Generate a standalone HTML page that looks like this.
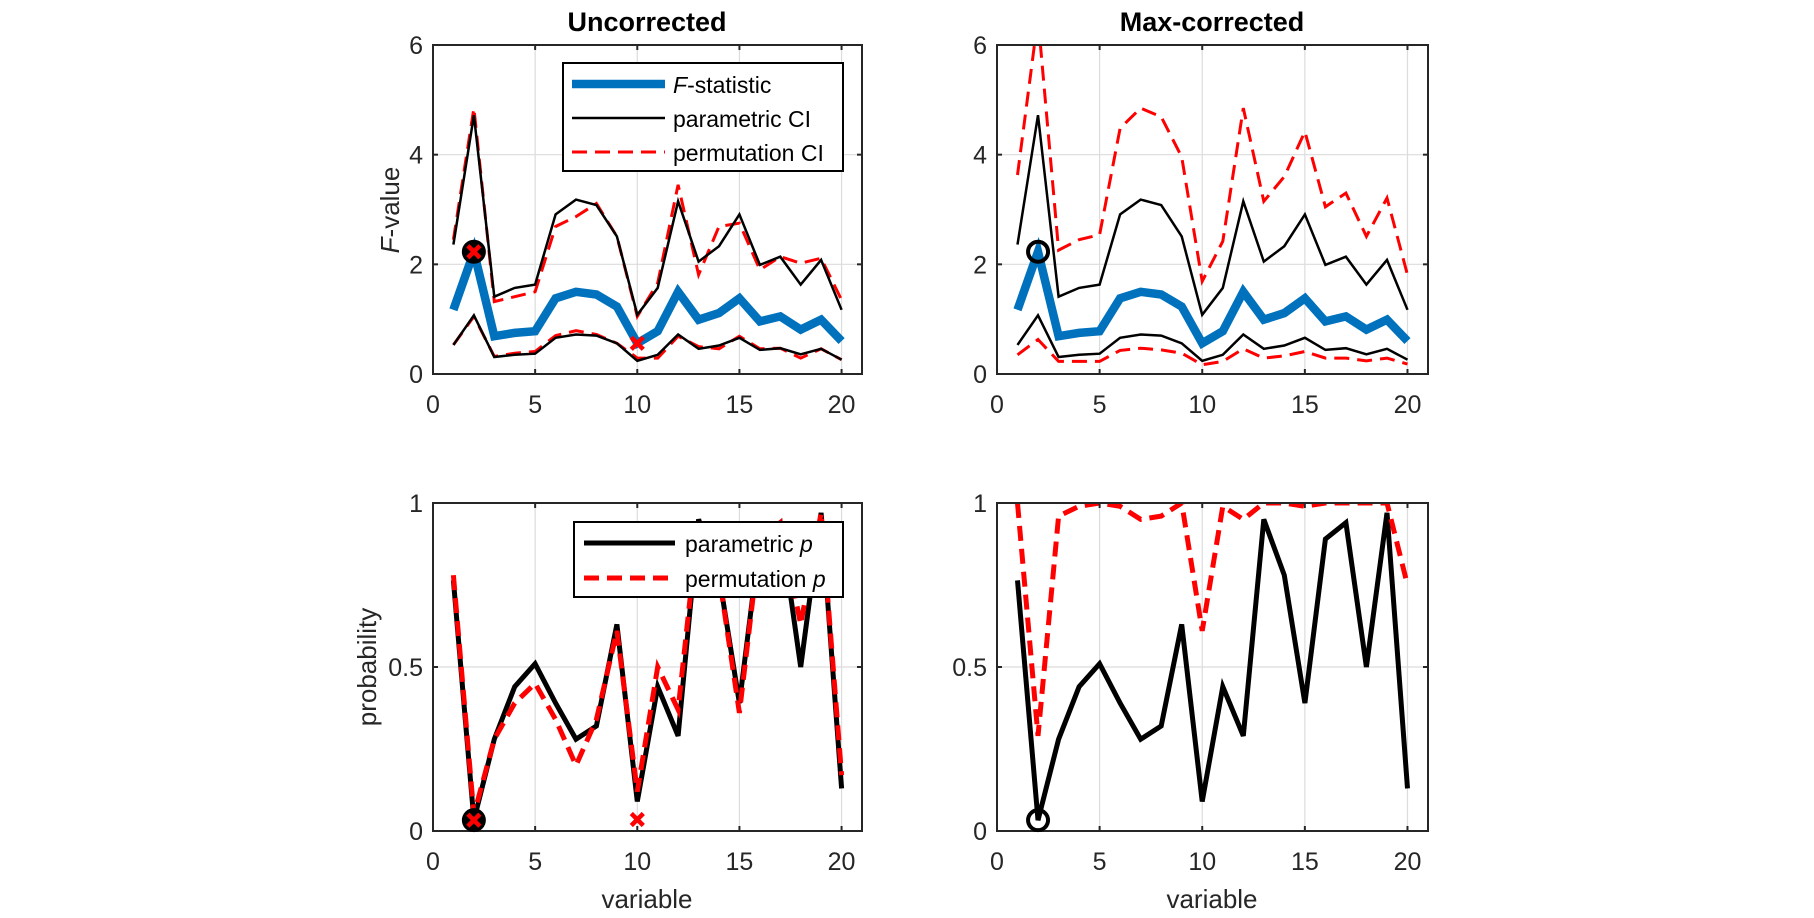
<!DOCTYPE html>
<html><head><meta charset="utf-8"><style>
body{margin:0;background:#fff;}
svg{display:block;font-family:"Liberation Sans",Arial,sans-serif;}
</style></head><body>
<svg id="fig" width="1814" height="918" viewBox="0 0 1814 918" xmlns="http://www.w3.org/2000/svg"></svg>
<script>
const xs=[1,2,3,4,5,6,7,8,9,10,11,12,13,14,15,16,17,18,19,20];
const fStat=[1.17,2.23,0.69,0.75,0.78,1.38,1.5,1.45,1.23,0.56,0.78,1.5,0.99,1.11,1.38,0.96,1.05,0.81,0.99,0.6];
const paramUpper=[2.36,4.72,1.41,1.57,1.63,2.91,3.18,3.08,2.51,1.08,1.57,3.15,2.05,2.33,2.91,1.99,2.14,1.63,2.08,1.17];
const paramLower=[0.53,1.07,0.31,0.35,0.37,0.66,0.72,0.70,0.56,0.24,0.35,0.72,0.46,0.52,0.66,0.44,0.47,0.36,0.46,0.26];
const permUpper=[2.45,4.85,1.32,1.41,1.5,2.69,2.87,3.11,2.51,1.05,1.66,3.45,1.81,2.69,2.75,1.9,2.14,2.02,2.11,1.35];
const permLower=[0.53,1.05,0.32,0.38,0.41,0.70,0.79,0.72,0.56,0.29,0.29,0.69,0.5,0.46,0.69,0.46,0.47,0.29,0.46,0.26];
const maxUpper=[3.63,6.5,2.26,2.45,2.54,4.48,4.85,4.69,3.96,1.69,2.42,4.85,3.15,3.6,4.42,3.05,3.3,2.51,3.21,1.81];
const maxLower=[0.35,0.63,0.23,0.23,0.23,0.43,0.47,0.44,0.38,0.17,0.23,0.46,0.29,0.33,0.41,0.29,0.29,0.24,0.29,0.18];
const paramP=[0.764,0.033,0.28,0.44,0.51,0.39,0.28,0.32,0.63,0.09,0.44,0.29,0.95,0.78,0.39,0.89,0.94,0.5,0.97,0.13];
const permP=[0.78,0.05,0.28,0.39,0.45,0.34,0.2,0.34,0.61,0.12,0.5,0.37,0.95,0.78,0.36,0.89,0.94,0.63,0.97,0.17];
const maxP=[1.0,0.29,0.96,0.99,1.0,0.99,0.95,0.96,1.0,0.61,0.99,0.95,1.0,1.0,0.99,1.0,1.0,1.0,1.0,0.75];
const xTicks=[0,5,10,15,20];
const fTicks=[0,2,4,6];
const pTicks=[0,0.5,1];
const pTickLabels=["0","0.5","1"];

const NS="http://www.w3.org/2000/svg";
const svg=document.getElementById('fig');
function mk(tag,attrs,parent){const e=document.createElementNS(NS,tag);for(const k in attrs)e.setAttribute(k,attrs[k]);(parent||svg).appendChild(e);return e;}

function axes(name,L,R,T,B,ymax,yt,ytl){
  const g=mk('g',{});
  
  
  const sx=v=>L+(v/21)*(R-L);
  const sy=v=>B-(v/ymax)*(B-T);
  const clipId=name+'-clip';
  const cp=mk('clipPath',{id:clipId},g);mk('rect',{x:L,y:T,width:R-L,height:B-T},cp);
  xTicks.forEach(t=>{ if(t>0){const l=mk('line',{x1:sx(t),x2:sx(t),y1:T,y2:B,stroke:'#dcdcdc','stroke-width':1.2},g);}});
  yt.forEach(t=>{ if(t>0&&t<ymax){const l=mk('line',{x1:L,x2:R,y1:sy(t),y2:sy(t),stroke:'#dcdcdc','stroke-width':1.2},g);}});
  const plot=mk('g',{'clip-path':'url(#'+clipId+')'},g);
  const frame=mk('rect',{x:L,y:T,width:R-L,height:B-T,fill:'none',stroke:'#262626','stroke-width':2},g);
  
  xTicks.forEach(t=>{
    mk('line',{x1:sx(t),x2:sx(t),y1:B,y2:B-5,stroke:'#262626','stroke-width':2},g);
    mk('line',{x1:sx(t),x2:sx(t),y1:T,y2:T+5,stroke:'#262626','stroke-width':2},g);
    const tx=mk('text',{x:sx(t),y:B+39,'font-size':25,fill:'#262626','text-anchor':'middle'},g);tx.textContent=t;
    
  });
  yt.forEach((t,i)=>{
    mk('line',{x1:L,x2:L+5,y1:sy(t),y2:sy(t),stroke:'#262626','stroke-width':2},g);
    mk('line',{x1:R,x2:R-5,y1:sy(t),y2:sy(t),stroke:'#262626','stroke-width':2},g);
    const tx=mk('text',{x:L-10,y:sy(t)+9,'font-size':25,fill:'#262626','text-anchor':'end'},g);tx.textContent=ytl?ytl[i]:t;
    
  });
  return {g,plot,sx,sy,L,R,T,B};
}
function line(ax,data,color,w,dash,name){
  const d=xs.map((x,i)=>(i?'L':'M')+ax.sx(x).toFixed(1)+' '+ax.sy(data[i]).toFixed(1)).join(' ');
  const p=mk('path',{d:d,fill:'none',stroke:color,'stroke-width':w,'stroke-linejoin':'miter','stroke-dasharray':dash||'none'},ax.plot);
  
  
}
function circ(ax,x,y,name,fill){const c=mk('circle',{cx:ax.sx(x),cy:ax.sy(y),r:10,fill:fill||'none',stroke:'#000','stroke-width':4},ax.g);}
function cross(ax,x,y,name){const cx=ax.sx(x),cy=ax.sy(y),s=6;const p=mk('path',{d:`M${cx-s} ${cy-s}L${cx+s} ${cy+s}M${cx-s} ${cy+s}L${cx+s} ${cy-s}`,stroke:'#f00','stroke-width':4.5},ax.g);}
function text(x,y,s,attrs,name){const t=mk('text',Object.assign({x:x,y:y,fill:'#000'},attrs));t.innerHTML=s;return t;}

// Top-left
const a1=axes('uncorrected-f-axes',433,862,45,374,6,fTicks);
line(a1,permUpper,'#f00',3,'15 8','perm-ci-upper');
line(a1,permLower,'#f00',3,'15 8','perm-ci-lower');
line(a1,paramUpper,'#000',2.5,null,'param-ci-upper');
line(a1,paramLower,'#000',2.5,null,'param-ci-lower');
line(a1,fStat,'#0072bd',8.5,null,'f-statistic-line');
circ(a1,2,fStat[1],'significant-marker-param','#000');cross(a1,2,fStat[1],'significant-marker-perm');cross(a1,10,fStat[9],'significant-marker-perm-10');
// Top-right
const a2=axes('maxcorrected-f-axes',997,1428,45,374,6,fTicks);
line(a2,maxUpper,'#f00',3,'15 8','max-perm-ci-upper');
line(a2,maxLower,'#f00',3,'15 8','max-perm-ci-lower');
line(a2,paramUpper,'#000',2.5,null,'param-ci-upper');
line(a2,paramLower,'#000',2.5,null,'param-ci-lower');
line(a2,fStat,'#0072bd',8.5,null,'f-statistic-line');
circ(a2,2,fStat[1],'significant-marker-param');
// Bottom-left
const a3=axes('uncorrected-p-axes',433,862,503,831,1,pTicks,pTickLabels);
line(a3,paramP,'#000',5,null,'parametric-p-line');
line(a3,permP,'#f00',5,'15 8','permutation-p-line');
circ(a3,2,paramP[1],'significant-marker-param','#000');cross(a3,2,paramP[1],'significant-marker-perm');cross(a3,10,0.035,'significant-marker-perm-10');
// Bottom-right
const a4=axes('maxcorrected-p-axes',997,1428,503,831,1,pTicks,pTickLabels);
line(a4,paramP,'#000',5,null,'parametric-p-line');
line(a4,maxP,'#f00',5,'15 8','max-permutation-p-line');
circ(a4,2,paramP[1],'significant-marker-param');

// Titles & labels
text(647,31,'Uncorrected',{'font-size':27,'font-weight':'bold','text-anchor':'middle'},'title-uncorrected');
text(1212,31,'Max-corrected',{'font-size':27,'font-weight':'bold','text-anchor':'middle'},'title-max-corrected');
text(0,0,'<tspan font-style="italic">F</tspan>-value',{'font-size':26,fill:'#262626','text-anchor':'middle',transform:'translate(399,210) rotate(-90)'},'y-axis-title-f');
text(0,0,'probability',{'font-size':26,fill:'#262626','text-anchor':'middle',transform:'translate(376,667) rotate(-90)'},'y-axis-title-p');
text(647,908,'variable',{'font-size':26,fill:'#262626','text-anchor':'middle'},'x-axis-title-left');
text(1212,908,'variable',{'font-size':26,fill:'#262626','text-anchor':'middle'},'x-axis-title-right');

// Legend top
const lg1=mk('g',{});
mk('rect',{x:563,y:63,width:280,height:108,fill:'#fff',stroke:'#000','stroke-width':2},lg1);
mk('line',{x1:572,x2:665,y1:84,y2:84,stroke:'#0072bd','stroke-width':8.5},lg1);
mk('line',{x1:572,x2:665,y1:118,y2:118,stroke:'#000','stroke-width':2.5},lg1);
mk('line',{x1:572,x2:665,y1:152,y2:152,stroke:'#f00','stroke-width':3,'stroke-dasharray':'15 8'},lg1);
text(673,93,'<tspan font-style="italic">F</tspan>-statistic',{'font-size':23},'legend-entry-f');
text(673,127,'parametric CI',{'font-size':23},'legend-entry-param');
text(673,161,'permutation CI',{'font-size':23},'legend-entry-perm');
// Legend bottom
const lg2=mk('g',{});
mk('rect',{x:574,y:522,width:269,height:75,fill:'#fff',stroke:'#000','stroke-width':2},lg2);
mk('line',{x1:584,x2:675,y1:543,y2:543,stroke:'#000','stroke-width':5},lg2);
mk('line',{x1:584,x2:675,y1:578,y2:578,stroke:'#f00','stroke-width':5,'stroke-dasharray':'15 8'},lg2);
text(685,552,'parametric <tspan font-style="italic">p</tspan>',{'font-size':23},'legend-entry-param-p');
text(685,587,'permutation <tspan font-style="italic">p</tspan>',{'font-size':23},'legend-entry-perm-p');
</script>
</body></html>
